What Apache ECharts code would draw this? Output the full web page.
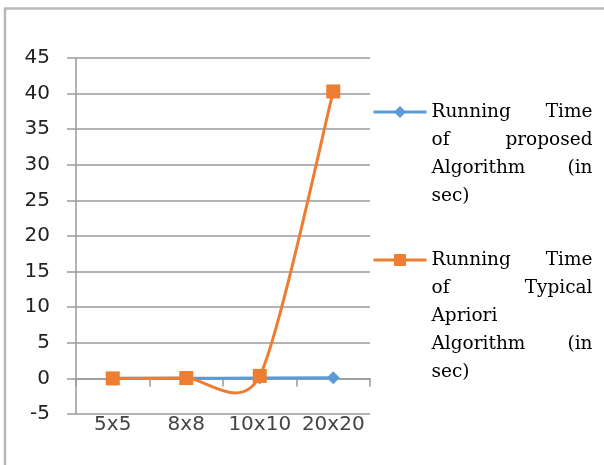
<!DOCTYPE html>
<html><head><meta charset="utf-8">
<script src="https://cdn.jsdelivr.net/npm/echarts@6/dist/echarts.min.js"></script>
<style>html,body{margin:0;padding:0;background:#fff}#c{width:604px;height:465px}</style>
</head><body><div id="c"></div>
<script>
// ---- data ----
const categories = ['5x5', '8x8', '10x10', '20x20'];
const proposedTimes = [0.01, 0.02, 0.05, 0.08];
const aprioriTimes = [0.0, 0.05, 0.35, 40.3];
const yMin = -5, yMax = 45, yStep = 5;
const seriesNames = [
  'Running Time of proposed Algorithm (in sec)',
  'Running Time of Typical Apriori Algorithm (in sec)'
];
const legendLines = [
  [['Running', 'Time'], ['of', 'proposed'], ['Algorithm', '(in'], ['sec)']],
  [['Running', 'Time'], ['of', 'Typical'], ['Apriori'], ['Algorithm', '(in'], ['sec)']]
];

// ---- style ----
const BLUE = '#5b9bd5', ORANGE = '#ed7d31', GRID = '#9a9a9a';
const LH = 28;
const TENSION = 0.13;

function legendRich(lines) {
  return lines.map(l => l.length === 2 ? '{a|' + l[0] + '}{b|' + l[1] + '}' : '{a|' + l[0] + '}').join('\n');
}
const richStyles = {
  a: { width: 80, align: 'left', fontFamily: 'DejaVu Serif', fontSize: 18.5, lineHeight: LH, color: '#000' },
  b: { width: 81, align: 'right', fontFamily: 'DejaVu Serif', fontSize: 18.5, lineHeight: LH, color: '#000' }
};
function makeLegend(idx, top) {
  const n = legendLines[idx].length;
  return {
    data: [{ name: seriesNames[idx] }],
    orient: 'vertical', left: 372, top: top, padding: 0,
    itemWidth: 53, itemHeight: 15,
    selectedMode: false,
    lineStyle: { width: 3, opacity: 1 },
    formatter: () => legendRich(legendLines[idx]),
    textStyle: { padding: [(n - 1) * LH, 0, 0, 0], lineHeight: LH, fontFamily: 'DejaVu Serif', fontSize: 18.5, color: '#000', rich: richStyles }
  };
}

function clampIdx(k) { return Math.max(0, Math.min(aprioriTimes.length - 1, k)); }
function renderCurve(params, api) {
  const i = params.dataIndex;
  if (i >= aprioriTimes.length - 1) return null;
  const pt = k => api.coord([clampIdx(k), aprioriTimes[clampIdx(k)]]);
  const p0 = pt(i - 1), p1 = pt(i), p2 = pt(i + 1), p3 = pt(i + 2);
  return {
    type: 'bezierCurve',
    shape: {
      x1: p1[0], y1: p1[1], x2: p2[0], y2: p2[1],
      cpx1: p1[0] + (p2[0] - p0[0]) * TENSION, cpy1: p1[1] + (p2[1] - p0[1]) * TENSION,
      cpx2: p2[0] - (p3[0] - p1[0]) * TENSION, cpy2: p2[1] - (p3[1] - p1[1]) * TENSION
    },
    style: { stroke: ORANGE, lineWidth: 3, fill: null, lineCap: 'round' }
  };
}

const chart = echarts.init(document.getElementById('c'), null, { renderer: 'canvas' });
const legendHalf = n => ((n - 1) * LH + n * LH) / 2;
chart.setOption({
  animation: false,
  backgroundColor: '#fff',
  grid: { left: 76, right: 234, top: 58, bottom: 51, containLabel: false },
  graphic: [{
    type: 'rect', shape: { x: 5, y: 8.5, width: 700, height: 520 },
    style: { fill: null, stroke: '#b8b8b8', lineWidth: 2.5 }, silent: true, z: 0
  }],
  legend: [makeLegend(0, 112 - legendHalf(4)), makeLegend(1, 260 - legendHalf(5))],
  xAxis: [{
    type: 'category', data: categories, boundaryGap: true,
    axisLine: { show: true, onZero: true, lineStyle: { color: GRID, width: 1.5 } },
    axisTick: { show: true, length: 8, alignWithLabel: false, interval: 0, lineStyle: { color: GRID, width: 1.5 } },
    axisLabel: { show: false }, splitLine: { show: false }
  }, {
    type: 'category', data: categories, boundaryGap: true, position: 'bottom',
    axisLine: { show: false, onZero: false }, axisTick: { show: false },
    axisLabel: { show: true, interval: 0, hideOverlap: false, margin: 1, fontFamily: 'DejaVu Sans', fontSize: 20, color: '#444' },
    splitLine: { show: false }
  }],
  yAxis: {
    type: 'value', min: yMin, max: yMax, interval: yStep,
    axisLine: { show: true, lineStyle: { color: GRID, width: 1.5 } },
    axisTick: { show: true, length: 9, lineStyle: { color: GRID, width: 1.5 } },
    axisLabel: { margin: 26, fontFamily: 'DejaVu Sans', fontSize: 20, color: '#222' },
    splitLine: { show: true, lineStyle: { color: GRID, width: 1.5 } }
  },
  series: [{
    name: seriesNames[0], type: 'line', data: proposedTimes, smooth: true, z: 2,
    symbol: 'diamond', symbolSize: 13, showSymbol: true,
    lineStyle: { color: BLUE, width: 3 }, itemStyle: { color: BLUE }
  }, {
    name: 'apriori-curve', type: 'custom', z: 3,
    data: aprioriTimes.map((v, i) => [i, v]),
    renderItem: renderCurve, silent: true
  }, {
    name: seriesNames[1], type: 'line', data: aprioriTimes, z: 4,
    symbol: 'rect', symbolSize: 14, showSymbol: true,
    lineStyle: { color: ORANGE, width: 3, opacity: 0 }, itemStyle: { color: ORANGE }
  }]
});
</script></body></html>
